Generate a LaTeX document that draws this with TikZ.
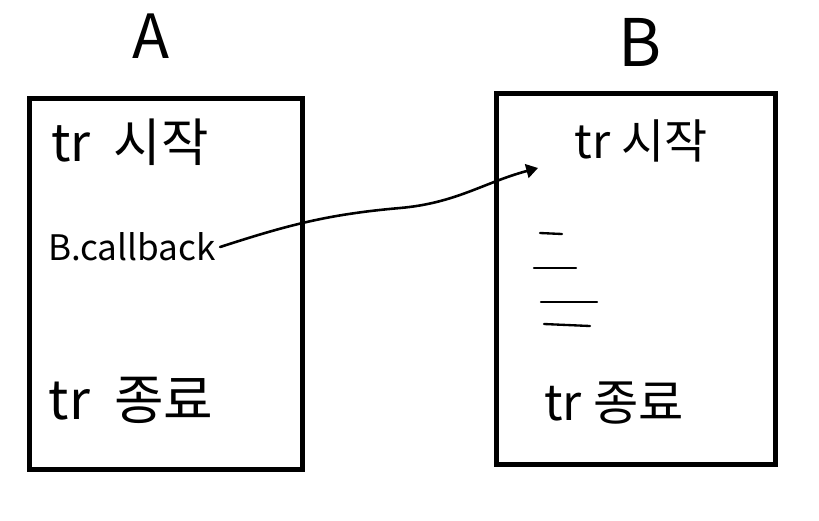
\documentclass[tikz,border=0pt]{standalone}
\usepackage{fontspec}
\setmainfont{Noto Sans CJK KR}
\usetikzlibrary{arrows.meta}
\begin{document}
\begin{tikzpicture}[x=0.03cm,y=-0.03cm,
    box/.style={draw, line width=4.5pt, minimum width=8.2cm, minimum height=11.15cm},
    hand/.style={font=\fontsize{42}{46}\selectfont},
    small/.style={font=\fontsize{30}{34}\selectfont},
    stroke/.style={line width=2pt, line cap=round}]
    \useasboundingbox (0,0) rectangle (819,520);
    % the two sides
    \node[box] (boxA) at (166,284) {};
    \node[box, minimum width=8.35cm] (boxB) at (636,279) {};
    \node[hand, font=\fontsize{52}{56}\selectfont] (labelA) at (151,36) {A};
    \node[hand, font=\fontsize{56}{60}\selectfont] (labelB) at (640,42) {B};

    % inside A
    \node[hand, font=\fontsize{44}{48}\selectfont] (startA) at (130,142) {tr\ \ 시작};
    \node[small] (cbA) at (132,247) {B.callback};
    \node[hand, font=\fontsize{46}{50}\selectfont] (endA) at (131,400) {tr\ \ 종료};

    % inside B
    \node[hand, font=\fontsize{40}{44}\selectfont] (startB) at (641,141) {tr 시작};
    \node[hand] (endB) at (614,403) {tr 종료};
    \draw[stroke] (540,233) -- (562,234);
    \draw[stroke] (534,268) -- (576,268);
    \draw[stroke] (541,302) -- (597,302);
    \draw[stroke] (544,324) -- (590,326);

    \coordinate (tip) at (538,168);
    \draw[stroke, line width=2.2pt, -{Triangle[length=10pt,width=12pt]}] (cbA.east) to[out=18,in=185] (400,208)
        to[out=5,in=195] (tip); % call goes over to B
\end{tikzpicture}
\end{document}
